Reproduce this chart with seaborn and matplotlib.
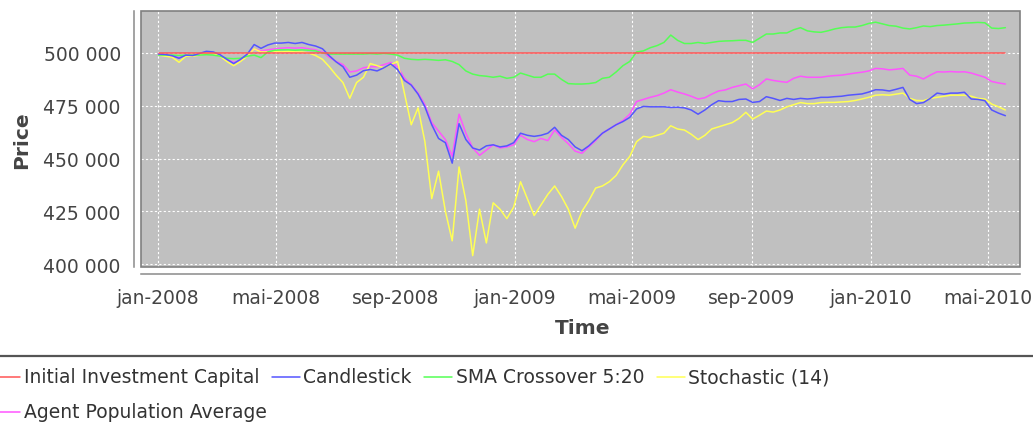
import numpy as np
import pandas as pd
import matplotlib
matplotlib.use("Agg")
import matplotlib.pyplot as plt
from matplotlib.lines import Line2D
from matplotlib.patches import Rectangle
from matplotlib.ticker import FuncFormatter
import seaborn as sns

# ---------------------------------------------------------------------------
# Data: weekly portfolio valuations (thousands), one value per week
# ---------------------------------------------------------------------------
first_valuation = "2008-01-02"
n_weeks = 125
initial_capital_k = 500.0

candlestick_k = [
    499.5, 499.3, 498.7, 497.5, 499.0, 498.8, 499.8, 500.8, 500.5, 499.2,
    497.0, 495.0, 497.0, 499.5, 504.0, 502.2, 503.8, 504.7, 504.7, 505.0,
    504.5, 505.0, 504.0, 503.3, 502.0, 498.7, 495.8, 493.5, 488.5, 489.5,
    491.6, 492.2, 491.5, 493.0, 494.8, 492.2, 487.0, 484.8, 480.5, 474.5,
    466.0, 459.5, 457.5, 447.8, 466.5, 459.0, 455.0, 454.0, 456.0, 456.5,
    455.5, 456.0, 457.5, 462.0, 461.0, 460.5, 461.0, 462.0, 464.8, 461.0,
    459.0, 455.5, 453.7, 456.0, 459.0, 462.0, 464.0, 466.0, 467.5, 469.5,
    473.5, 474.7, 474.5, 474.5, 474.5, 474.2, 474.3, 474.0, 473.0, 471.0,
    473.0, 475.5, 477.4, 477.0, 477.0, 478.0, 478.2, 476.6, 477.0, 479.3,
    478.5, 477.5, 478.5, 478.0, 478.5, 478.2, 478.5, 479.0, 479.0, 479.3,
    479.5, 480.0, 480.3, 480.6, 481.5, 482.6, 482.5, 482.0, 482.8, 483.7,
    478.0, 476.0, 476.5, 478.5, 481.0, 480.5, 481.0, 481.0, 481.4, 478.2,
    478.0, 477.4, 473.0, 471.5, 470.3,
]

sma_crossover_k = [
    499.0, 499.0, 499.0, 498.8, 499.0, 499.0, 499.0, 499.2, 499.0, 498.5,
    497.5, 497.3, 497.5, 498.5, 499.0, 497.8, 500.5, 501.3, 501.5, 501.5,
    501.3, 501.5, 501.3, 501.0, 500.0, 499.5, 499.5, 499.5, 499.5, 499.5,
    499.5, 499.7, 499.5, 499.8, 499.5, 499.0, 497.5, 497.0, 496.8, 497.0,
    496.8, 496.5, 496.8, 496.0, 494.5, 491.5, 490.0, 489.3, 489.0, 488.5,
    489.0, 488.0, 488.5, 490.5, 489.5, 488.5, 488.5, 490.0, 490.0, 487.5,
    485.5, 485.3, 485.3, 485.5, 486.0, 488.0, 488.5, 491.0, 494.0, 496.0,
    500.5, 501.0, 502.5, 503.5, 505.0, 508.5, 506.0, 504.5, 504.5, 505.0,
    504.5, 505.0, 505.5, 505.7, 505.8, 506.0, 506.0, 505.0, 507.0, 509.0,
    509.0, 509.5, 509.5, 511.0, 512.0, 510.5, 510.0, 509.8, 510.5, 511.4,
    512.0, 512.3, 512.3, 513.0, 514.0, 514.6, 513.8, 513.0, 512.7, 511.8,
    511.4, 512.0, 512.8, 512.5, 513.0, 513.2, 513.5, 513.8, 514.2, 514.3,
    514.5, 514.3, 511.8, 511.6, 512.0,
]

stochastic_k = [
    499.0, 498.5, 498.0, 495.6, 498.5, 498.5, 499.0, 500.0, 499.8, 498.5,
    496.0, 494.0, 496.0, 498.5, 502.0, 500.5, 500.5, 500.8, 500.5, 500.8,
    500.5, 500.5, 500.0, 498.8, 497.0, 493.5, 489.5, 486.0, 478.5, 486.0,
    488.5, 495.0, 494.0, 493.0, 494.5, 496.0, 481.0, 466.0, 474.0, 458.0,
    431.0, 444.0, 425.0, 411.0, 446.0, 430.0, 404.0, 426.0, 410.0, 429.0,
    426.0, 421.5, 427.0, 439.0, 431.0, 423.0, 428.0, 433.0, 437.0, 432.0,
    426.0, 417.0, 425.0, 430.0, 436.0, 437.0, 439.0, 442.0, 447.0, 451.0,
    458.0, 460.5, 460.0, 461.0, 462.0, 465.5, 464.0, 463.5, 461.5, 459.0,
    461.0, 464.0, 465.0, 466.0, 467.0, 469.0, 471.9, 468.7, 470.5, 472.5,
    472.0, 473.0, 474.5, 475.5, 476.5, 476.0, 476.0, 476.5, 476.6, 476.6,
    476.8, 477.0, 477.5, 478.2, 479.0, 480.0, 480.2, 480.0, 480.5, 481.0,
    478.5, 477.5, 477.4, 478.5, 479.0, 479.5, 480.0, 480.0, 480.0, 479.5,
    478.5, 478.2, 475.8, 474.5, 473.0,
]

agent_average_k = [
    499.5, 499.0, 498.5, 497.8, 498.8, 498.7, 499.3, 500.2, 500.0, 499.0,
    497.0, 495.5, 496.5, 498.8, 502.0, 501.0, 501.5, 502.0, 502.3, 502.5,
    502.3, 502.5, 502.0, 501.5, 500.5, 498.0, 496.0, 494.5, 491.0, 491.5,
    493.0, 493.5, 493.5, 494.5, 495.5, 493.5, 488.0, 485.0, 481.0, 475.5,
    467.0, 463.0, 459.0, 451.0, 471.0, 462.0, 455.0, 451.5, 454.0, 456.5,
    455.0, 455.5, 456.5, 461.0, 459.0, 458.0, 459.5, 458.5, 463.5, 460.0,
    457.0, 453.5, 452.5, 455.5, 458.5, 462.0, 464.0, 466.0, 468.0, 471.0,
    477.0, 478.0, 479.0, 479.8, 481.0, 482.6, 481.5, 480.6, 479.5, 478.2,
    478.8, 480.5, 482.0, 482.5, 483.7, 484.5, 485.3, 483.0, 485.0, 487.7,
    487.0, 486.5, 486.1, 488.0, 489.0, 488.5, 488.5, 488.5, 489.0, 489.3,
    489.5, 490.0, 490.5, 490.9, 491.5, 492.7, 492.5, 492.0, 492.3, 492.7,
    489.5, 489.0, 487.7, 489.5, 491.1, 491.0, 491.2, 491.0, 491.1, 490.5,
    489.5, 488.5, 486.5, 485.8, 485.3,
]

series_names = [
    "Initial Investment Capital",
    "Candlestick",
    "SMA Crossover 5:20",
    "Stochastic (14)",
    "Agent Population Average",
]
series_colors = ["#ff5555", "#5555ff", "#55ff55", "#ffff55", "#ff55ff"]

y_ticks = [400000, 425000, 450000, 475000, 500000]
x_tick_dates = ["2008-01-01", "2008-05-01", "2008-09-01", "2009-01-01",
                "2009-05-01", "2009-09-01", "2010-01-01", "2010-05-01"]
x_tick_labels = ["jan-2008", "mai-2008", "sep-2008", "jan-2009",
                 "mai-2009", "sep-2009", "jan-2010", "mai-2010"]

# ---------------------------------------------------------------------------
# Long-form table
# ---------------------------------------------------------------------------
dates = pd.date_range(first_valuation, periods=n_weeks, freq="7D")
values = [
    [initial_capital_k] * n_weeks,
    candlestick_k,
    sma_crossover_k,
    stochastic_k,
    agent_average_k,
]
frames = []
for name, vals in zip(series_names, values):
    frames.append(pd.DataFrame({"date": dates,
                                "value": np.asarray(vals) * 1000.0,
                                "series": name}))
df = pd.concat(frames, ignore_index=True)

# ---------------------------------------------------------------------------
# Figure
# ---------------------------------------------------------------------------
sns.set_style("white")
plt.rcParams["font.family"] = ["DejaVu Sans"]

W, H = 1033, 427
fig = plt.figure(figsize=(W / 100, H / 100), dpi=100)


def fx(px):
    return px / W


def fy(py):
    return 1 - py / H


left, right, top, bottom = 141, 1020, 12, 268
ax = fig.add_axes([fx(left), fy(bottom), fx(right) - fx(left), fy(top) - fy(bottom)])
ax.set_facecolor("#c0c0c0")

# first series is painted last so it sits on top
draw_order = series_names[::-1]
palette = dict(zip(series_names, series_colors))
sns.lineplot(data=df, x="date", y="value", hue="series", hue_order=draw_order,
             palette=palette, estimator=None, legend=False, linewidth=1.1, ax=ax)

ax.set_xlim(pd.Timestamp("2007-12-15"), pd.Timestamp("2010-06-03"))
ax.set_ylim(398600, 519900)

ax.set_yticks(y_ticks)
ax.yaxis.set_major_formatter(FuncFormatter(lambda v, p: f"{v:,.0f}".replace(",", " ")))
ax.set_xticks(pd.to_datetime(x_tick_dates))
ax.set_xticklabels(x_tick_labels)

ax.grid(True, color="white", linestyle=(0, (2, 2)), linewidth=0.8)
ax.set_axisbelow(True)

for side in ("top", "right"):
    ax.spines[side].set_visible(False)
for side in ("left", "bottom"):
    ax.spines[side].set_position(("outward", 5))
    ax.spines[side].set_color("#8a8a8a")
    ax.spines[side].set_linewidth(1.1)

ax.add_patch(Rectangle((0, 0), 1, 1, transform=ax.transAxes, fill=False,
                       edgecolor="#808080", linewidth=1.2, clip_on=False, zorder=5))

ax.tick_params(axis="both", direction="out", length=3, width=0.9,
               color="#8a8a8a", labelsize=13.5, labelcolor="#444444")
ax.tick_params(axis="y", pad=6.5)
ax.tick_params(axis="x", pad=7)

ax.set_xlabel("Time", fontsize=14.5, fontweight="bold", color="#444444")
ax.set_ylabel("Price", fontsize=14.5, fontweight="bold", color="#444444")
ax.xaxis.label.set_va("center")
ax.yaxis.label.set_va("center")
ax.xaxis.set_label_coords((583 - left) / (right - left), -(328 - bottom) / (bottom - top))
ax.yaxis.set_label_coords(-(left - 22) / (right - left), 0.5)

# ---------------------------------------------------------------------------
# Legend strip below a separator line, items flowing left to right
# ---------------------------------------------------------------------------
fig.add_artist(Line2D([0, 1], [fy(357), fy(357)], transform=fig.transFigure,
                      color="#555555", linewidth=1.6))

renderer = fig.canvas.get_renderer()
row_y = [378, 413]
row = 0
cursor = -8
handle_len, handle_gap, item_gap = 28, 4, 12
for name, color in zip(series_names, series_colors):
    t = fig.text(0, 0, name, fontsize=13.5, color="#333333", va="center", ha="left")
    w = t.get_window_extent(renderer).width
    if cursor + handle_len + handle_gap + w > W and cursor > 0:
        row += 1
        cursor = -8
    y = row_y[row]
    fig.add_artist(Line2D([fx(cursor), fx(cursor + handle_len)], [fy(y), fy(y)],
                          transform=fig.transFigure, color=color, linewidth=1.1))
    t.set_position((fx(cursor + handle_len + handle_gap), fy(y)))
    cursor += handle_len + handle_gap + w + item_gap

fig.savefig("out.png", dpi=100)
